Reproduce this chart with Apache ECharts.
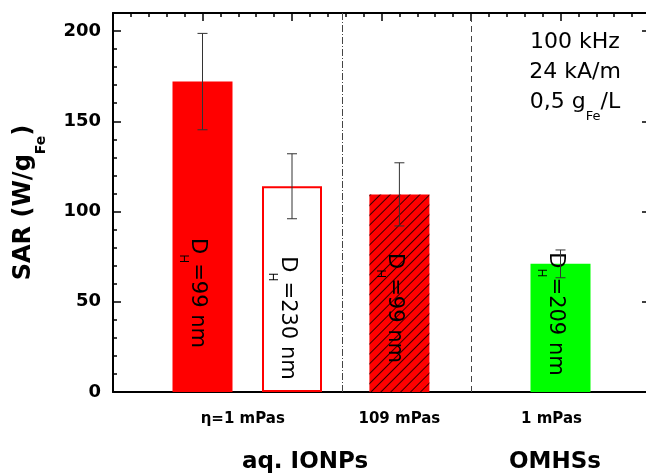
<!DOCTYPE html>
<html>
<head>
<meta charset="utf-8">
<script src="https://cdn.jsdelivr.net/npm/echarts@6/dist/echarts.min.js"></script>
<style>
html,body{margin:0;padding:0;background:#fff}
#chart{width:646px;height:474px}
</style>
</head>
<body>
<div id="chart"></div>
<script>
// SAR values
var xPos = [1, 2, 3.2, 5];
var sar = [172, 114, 109.5, 71];
var sarErr = [26.7, 18, 17.5, 7.7];
var dH = ['99', '230', '99', '209'];
var viscPos = [1.45, 3.2, 4.9];
var viscLabels = ['η=1 mPas', '109 mPas', '1 mPas'];
var dividers = [2.56, 4];

(function(){
    var myChart = echarts.init(document.getElementById('chart'));
    var FONT = 'DejaVu Sans';

    // bar looks: filled, outlined, hatched, green
    var barStyles = [
        {color: '#ff0000'},
        {color: '#ffffff', borderColor: '#ff0000', borderWidth: 2},
        {color: '#ff0000', decal: {symbol: 'rect', color: 'rgba(0,0,0,0.8)', dashArrayX: [1, 0], dashArrayY: [1, 6], rotation: -Math.PI / 4}},
        {color: '#00ff00'}
    ];
    var labelLift = [99, 74, 84, 78];

    // subscript: sub token sits at the bottom of a taller line
    var subRich = {
        m: {fontFamily: FONT, fontSize: 21, lineHeight: 22, verticalAlign: 'top', color: '#000'},
        s: {fontFamily: FONT, fontSize: 12, lineHeight: 31, verticalAlign: 'bottom', color: '#000'}
    };

    var barData = xPos.map(function(x, i){
        return {
            value: [x, sar[i]],
            itemStyle: barStyles[i],
            label: {
                show: true,
                position: 'insideBottom',
                distance: labelLift[i],
                rotate: -90,
                align: 'center',
                verticalAlign: 'middle',
                offset: [0, 10],
                formatter: '{m|D}{s|H}{m|=' + dH[i] + ' nm}',
                rich: subRich
            }
        };
    });

    var errData = xPos.map(function(x, i){
        return [x, sar[i] - sarErr[i], sar[i] + sarErr[i]];
    });

    var axisBlack = {color: '#000', width: 2};
    var tickBlack = {color: '#000', width: 1.5};
    var gridBox = {left: 113, right: -4, top: 13, bottom: 82, outerBoundsMode: 'none'};

    var option = {
        animation: false,
        // second grid on the same box only carries the short ticks
        grid: [gridBox, gridBox],
        xAxis: [
            {
                gridIndex: 0, type: 'value', min: 0, max: 6, position: 'bottom',
                axisLine: {onZero: false, lineStyle: axisBlack},
                axisTick: {show: false},
                splitLine: {show: false},
                axisLabel: {
                    customValues: viscPos,
                    formatter: function(v){
                        for (var i = 0; i < viscPos.length; i++) {
                            if (Math.abs(viscPos[i] - v) < 1e-6) return viscLabels[i];
                        }
                        return '';
                    },
                    fontFamily: FONT, fontWeight: 'bold', fontSize: 15, color: '#000', margin: 20
                }
            },
            {
                gridIndex: 0, type: 'value', min: 0, max: 6, interval: 1, position: 'top',
                axisLine: {onZero: false, lineStyle: axisBlack},
                axisTick: {inside: true, length: 8, lineStyle: tickBlack},
                minorTick: {show: true, splitNumber: 5, length: 4, lineStyle: tickBlack},
                axisLabel: {show: false},
                splitLine: {show: false}
            },
            {
                gridIndex: 1, type: 'value', min: 0, max: 6, show: false
            }
        ],
        yAxis: [
            {
                gridIndex: 0, type: 'value', min: 0, max: 210, interval: 50, position: 'left',
                axisLine: {show: true, onZero: false, lineStyle: axisBlack},
                axisTick: {show: true, inside: true, length: 8, lineStyle: tickBlack},
                axisLabel: {
                    formatter: function(v){ return v > 200 ? '' : v; },
                    fontFamily: FONT, fontWeight: 'bold', fontSize: 18, color: '#000', margin: 12
                },
                splitLine: {show: false},
                name: '{m|SAR (W/g}{s|Fe}{m|)}',
                nameLocation: 'middle',
                nameRotate: 90,
                nameGap: 65,
                nameTextStyle: {
                    rich: {
                        m: {fontFamily: FONT, fontWeight: 'bold', fontSize: 24, lineHeight: 28, verticalAlign: 'top', color: '#000'},
                        s: {fontFamily: FONT, fontWeight: 'bold', fontSize: 14, lineHeight: 36, verticalAlign: 'bottom', color: '#000'}
                    }
                }
            },
            {
                gridIndex: 0, type: 'value', min: 0, max: 210, interval: 50, position: 'right',
                axisLine: {show: true, onZero: false, lineStyle: axisBlack},
                axisTick: {show: true, inside: true, length: 8, lineStyle: tickBlack},
                axisLabel: {show: false},
                splitLine: {show: false}
            },
            {
                gridIndex: 1, type: 'value', min: 0, max: 210, interval: 10, position: 'left',
                axisLine: {show: false, onZero: false},
                axisTick: {show: true, inside: true, length: 4, lineStyle: tickBlack},
                axisLabel: {show: false},
                splitLine: {show: false}
            },
            {
                gridIndex: 1, type: 'value', min: 0, max: 210, interval: 10, position: 'right',
                axisLine: {show: false, onZero: false},
                axisTick: {show: true, inside: true, length: 4, lineStyle: tickBlack},
                axisLabel: {show: false},
                splitLine: {show: false}
            }
        ],
        graphic: [
            {
                type: 'text', x: 575, y: 31,
                style: {
                    text: '{m|100 kHz}\n{m|24 kA/m}\n{m|0,5 g}{s|Fe}{m|/L}',
                    align: 'center', verticalAlign: 'top',
                    rich: {
                        m: {fontFamily: FONT, fontSize: 22, lineHeight: 30, verticalAlign: 'top', fill: '#000'},
                        s: {fontFamily: FONT, fontSize: 13, lineHeight: 32, verticalAlign: 'bottom', fill: '#000'}
                    }
                }
            },
            {
                type: 'text', x: 305, y: 462,
                style: {text: 'aq. IONPs', align: 'center', verticalAlign: 'middle', fontFamily: FONT, fontWeight: 'bold', fontSize: 23, fill: '#000'}
            },
            {
                type: 'text', x: 555, y: 462,
                style: {text: 'OMHSs', align: 'center', verticalAlign: 'middle', fontFamily: FONT, fontWeight: 'bold', fontSize: 23, fill: '#000'}
            }
        ],
        series: [
            {
                type: 'bar', xAxisIndex: 0, yAxisIndex: 0,
                barWidth: 60,
                data: barData,
                markLine: {
                    silent: true, symbol: 'none', label: {show: false},
                    data: [
                        {xAxis: dividers[0], lineStyle: {color: '#444', width: 1, type: [7, 2, 1, 2]}},
                        {xAxis: dividers[1], lineStyle: {color: '#444', width: 1, type: [6, 4]}}
                    ]
                }
            },
            {
                type: 'custom', xAxisIndex: 0, yAxisIndex: 0, z: 5,
                data: errData,
                renderItem: function(params, api){
                    var lo = api.coord([api.value(0), api.value(1)]);
                    var hi = api.coord([api.value(0), api.value(2)]);
                    var w = 5;
                    var s = {stroke: '#333', lineWidth: 1};
                    return {
                        type: 'group',
                        children: [
                            {type: 'line', shape: {x1: hi[0], y1: hi[1], x2: lo[0], y2: lo[1]}, style: s},
                            {type: 'line', shape: {x1: hi[0] - w, y1: hi[1], x2: hi[0] + w, y2: hi[1]}, style: s},
                            {type: 'line', shape: {x1: lo[0] - w, y1: lo[1], x2: lo[0] + w, y2: lo[1]}, style: s}
                        ]
                    };
                }
            }
        ]
    };
    myChart.setOption(option);
    window.addEventListener('resize', function(){
        myChart.resize();
    });
})();
</script>
</body>
</html>
